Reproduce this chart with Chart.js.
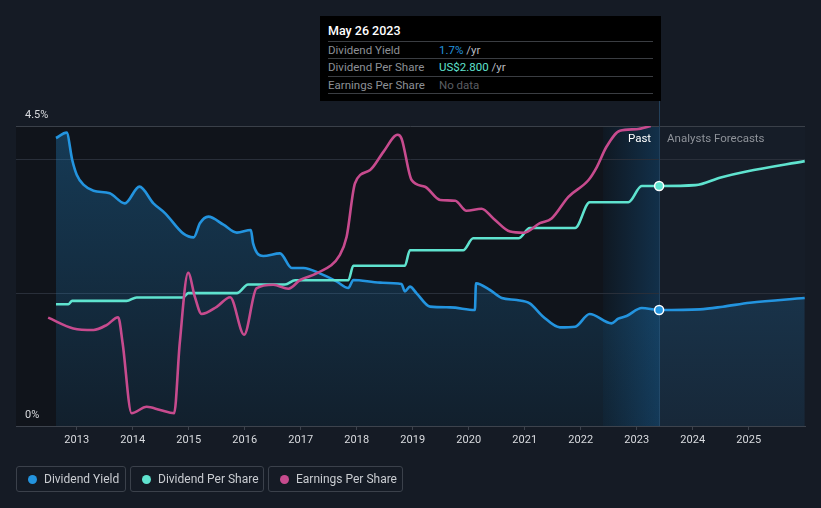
<!DOCTYPE html>
<html>
<head>
<meta charset="utf-8">
<script src="https://cdn.jsdelivr.net/npm/chart.js@4/dist/chart.umd.min.js"></script>
<style>
  html, body { margin: 0; padding: 0; background: #151b25; }
  body { width: 821px; height: 508px; position: relative; overflow: hidden; font-family: Roboto, "Open Sans", sans-serif; }
  #wrap { position: absolute; left: 0; top: 0; width: 821px; height: 508px; }
  #tip { position: absolute; left: 320px; top: 16px; width: 341px; height: 85px; background: #000; }
  #tip .title { position: absolute; left: 8px; top: 7px; color: #fff; font-size: 12.5px; font-weight: 500; }
  #tip .sep { position: absolute; left: 8px; width: 325px; height: 1px; background: #3a3d42; }
  #tip .lab { position: absolute; left: 8px; color: #8d9096; font-size: 11.5px; }
  #tip .val { position: absolute; left: 119px; font-size: 11.5px; color: #b8bbc0; }
  .legend { position: absolute; top: 466px; height: 26px; border: 1px solid #3b414b; border-radius: 3px; box-sizing: border-box; }
  .legend .dot { position: absolute; left: 11px; top: 8px; width: 9px; height: 9px; border-radius: 50%; }
  .legend .txt { position: absolute; left: 27px; top: 5px; font-size: 12px; color: #c9ccd1; white-space: nowrap; }
</style>
</head>
<body>
<div id="wrap"><canvas id="c" width="821" height="508"></canvas></div>

<div id="tip">
  <div class="title">May 26 2023</div>
  <div class="sep" style="top:25px"></div>
  <div class="lab" style="top:27px">Dividend Yield</div>
  <div class="val" style="top:27px"><span style="color:#2394df">1.7%</span> /yr</div>
  <div class="sep" style="top:42px"></div>
  <div class="lab" style="top:44px">Dividend Per Share</div>
  <div class="val" style="top:44px"><span style="color:#5fe3cf">US$2.800</span> /yr</div>
  <div class="sep" style="top:60px"></div>
  <div class="lab" style="top:62px">Earnings Per Share</div>
  <div class="val" style="top:62px; color:#5b5e63">No data</div>
  <div class="sep" style="top:77px"></div>
</div>

<div class="legend" style="left:16px; width:110px;"><div class="dot" style="background:#2394df"></div><div class="txt">Dividend Yield</div></div>
<div class="legend" style="left:130px; width:134px;"><div class="dot" style="background:#5fe3cf"></div><div class="txt">Dividend Per Share</div></div>
<div class="legend" style="left:268px; width:135px;"><div class="dot" style="background:#c74b8e"></div><div class="txt">Earnings Per Share</div></div>

<script>
// ---- Data (x as decimal years) ----
const yieldDates = [2012.63,2012.82,2012.92,2013.0,2013.12,2013.30,2013.59,2013.86,2014.12,2014.37,2014.58,2014.90,2015.09,2015.20,2015.35,2015.62,2015.86,2016.11,2016.15,2016.33,2016.63,2016.84,2017.05,2017.34,2017.64,2017.85,2017.94,2018.42,2018.80,2018.86,2018.95,2019.07,2019.31,2019.67,2020.11,2020.13,2020.38,2020.59,2020.86,2021.09,2021.33,2021.63,2021.90,2022.16,2022.55,2022.67,2022.82,2023.09,2023.40,2024.13,2024.54,2025.02,2026.0];
const yieldValues = [4.32,4.40,3.99,3.77,3.62,3.53,3.49,3.34,3.59,3.34,3.19,2.89,2.83,3.04,3.14,3.02,2.90,2.94,2.74,2.55,2.59,2.37,2.37,2.29,2.17,2.07,2.19,2.15,2.13,2.02,2.09,1.99,1.79,1.78,1.74,2.14,2.04,1.92,1.89,1.84,1.64,1.48,1.49,1.68,1.54,1.61,1.65,1.77,1.74,1.75,1.79,1.85,1.92];

const dpsDates = [2012.63,2012.85,2012.92,2013.89,2014.07,2014.90,2014.99,2015.86,2016.06,2016.72,2016.90,2017.85,2017.94,2018.86,2018.95,2019.90,2020.08,2020.89,2021.09,2021.90,2022.16,2022.85,2023.09,2023.40,2024.05,2024.50,2024.96,2026.0];
const dpsValues = [1.42,1.42,1.46,1.46,1.50,1.50,1.55,1.55,1.65,1.65,1.70,1.70,1.87,1.87,2.05,2.05,2.19,2.19,2.31,2.31,2.61,2.61,2.80,2.80,2.81,2.90,2.97,3.09];

const epsDates = [2012.49,2012.94,2013.30,2013.54,2013.74,2013.82,2013.98,2014.25,2014.49,2014.74,2014.84,2014.99,2015.11,2015.23,2015.50,2015.74,2015.99,2016.21,2016.51,2016.78,2016.99,2017.29,2017.70,2017.82,2017.97,2018.24,2018.48,2018.73,2018.80,2018.98,2019.22,2019.49,2019.76,2019.96,2020.23,2020.44,2020.74,2020.98,2021.27,2021.48,2021.78,2022.14,2022.29,2022.46,2022.70,2023.00,2023.25];
const epsValues = [2.71,2.44,2.40,2.53,2.72,2.07,0.32,0.48,0.40,0.32,2.07,3.83,3.23,2.80,2.98,3.22,2.28,3.44,3.53,3.43,3.65,3.82,4.28,4.73,6.07,6.40,6.86,7.28,7.19,6.15,5.98,5.65,5.63,5.38,5.43,5.19,4.86,4.83,5.07,5.19,5.73,6.15,6.48,6.98,7.38,7.42,7.50];

const yearTicks = [2013,2014,2015,2016,2017,2018,2019,2020,2021,2022,2023,2024,2025];
const yieldTickLabels = [{v:4.5, t:'4.5%'}, {v:0, t:'0%'}];
const yieldGridValues = [2, 4];
const hoverDate = 2023.40;
const highlightStart = 2022.40;

const pair = (xs, ys) => xs.map((x, i) => ({x, y: ys[i]}));
const markerRadius = (dates) => (ctx) => (dates[ctx.dataIndex] === hoverDate ? 4.5 : 0);

const bgPlugin = {
  id: 'bg',
  beforeDraw(chart) {
    const {ctx, chartArea: a, scales} = chart;
    const xs = scales.x;
    const xh = xs.getPixelForValue(highlightStart);
    const xv = xs.getPixelForValue(hoverDate);
    ctx.save();
    ctx.fillStyle = '#10141b';
    ctx.fillRect(a.left, a.top, xh - a.left, a.bottom - a.top);
    const g = ctx.createLinearGradient(xh, 0, xv, 0);
    g.addColorStop(0, '#0f1822');
    g.addColorStop(1, '#12304a');
    ctx.fillStyle = g;
    ctx.fillRect(xh, a.top, xv - xh, a.bottom - a.top);
    ctx.fillStyle = '#161d28';
    ctx.fillRect(xv, a.top, a.right - xv, a.bottom - a.top);
    ctx.restore();
  },
  beforeDatasetsDraw(chart) {
    const {ctx, chartArea: a, scales} = chart;
    ctx.save();
    ctx.strokeStyle = '#292f3a';
    ctx.lineWidth = 1;
    yieldGridValues.forEach(v => {
      const y = Math.round(scales.y.getPixelForValue(v)) + 0.5;
      ctx.beginPath();
      ctx.moveTo(a.left, y);
      ctx.lineTo(a.right, y);
      ctx.stroke();
    });
    const xv = Math.round(scales.x.getPixelForValue(hoverDate)) + 0.5;
    ctx.strokeStyle = '#23405a';
    ctx.beginPath();
    ctx.moveTo(xv, 100);
    ctx.lineTo(xv, a.bottom);
    ctx.stroke();
    ctx.restore();
  },
  afterDraw(chart) {
    const {ctx, scales} = chart;
    const xv = scales.x.getPixelForValue(hoverDate);
    ctx.save();
    ctx.font = '11px Roboto';
    ctx.fillStyle = '#d9dbdf';
    ctx.textBaseline = 'middle';
    ctx.textAlign = 'left';
    yieldTickLabels.forEach(l => {
      ctx.fillText(l.t, 25, scales.y.getPixelForValue(l.v) - 11);
    });
    ctx.font = '11.5px Roboto';
    ctx.textAlign = 'right';
    ctx.fillStyle = '#ffffff';
    ctx.fillText('Past', xv - 8, scales.y.top + 13);
    ctx.textAlign = 'left';
    ctx.fillStyle = '#8e9299';
    ctx.fillText('Analysts Forecasts', xv + 8, scales.y.top + 13);
    ctx.restore();
  }
};

new Chart(document.getElementById('c'), {
  type: 'line',
  data: {
    datasets: [
      {
        label: 'Dividend Yield',
        data: pair(yieldDates, yieldValues),
        yAxisID: 'y',
        borderColor: '#2394df',
        borderWidth: 2.6,
        fill: 'origin',
        backgroundColor: (ctx) => {
          const a = ctx.chart.chartArea;
          if (!a) return 'rgba(35,148,223,0.2)';
          const g = ctx.chart.ctx.createLinearGradient(0, a.top, 0, a.bottom);
          g.addColorStop(0, 'rgba(35,148,223,0.30)');
          g.addColorStop(1, 'rgba(35,148,223,0.09)');
          return g;
        },
        pointRadius: markerRadius(yieldDates),
        pointBackgroundColor: '#2394df',
        pointBorderColor: '#ffffff',
        pointBorderWidth: 1.5,
        cubicInterpolationMode: 'monotone',
        order: 3
      },
      {
        label: 'Dividend Per Share',
        data: pair(dpsDates, dpsValues),
        yAxisID: 'yDps',
        borderColor: '#5fe3cf',
        borderWidth: 2.6,
        fill: false,
        pointRadius: markerRadius(dpsDates),
        pointBackgroundColor: '#5fe3cf',
        pointBorderColor: '#ffffff',
        pointBorderWidth: 1.5,
        cubicInterpolationMode: 'monotone',
        order: 2
      },
      {
        label: 'Earnings Per Share',
        data: pair(epsDates, epsValues),
        yAxisID: 'yEps',
        borderColor: '#c74b8e',
        borderWidth: 2.6,
        fill: false,
        pointRadius: 0,
        cubicInterpolationMode: 'monotone',
        order: 1
      }
    ]
  },
  options: {
    responsive: false,
    animation: false,
    events: [],
    layout: { padding: { left: 16, right: 16, top: 126, bottom: 60 } },
    plugins: { legend: { display: false }, tooltip: { enabled: false } },
    scales: {
      x: {
        type: 'linear',
        min: 2011.916,
        max: 2026.005,
        afterBuildTicks: (s) => { s.ticks = yearTicks.map(v => ({value: v})); },
        afterFit: (s) => { s.height = 22; },
        ticks: {
          color: '#d9dbdf',
          font: { family: 'Roboto', size: 11 },
          padding: 4,
          maxRotation: 0,
          autoSkip: false,
          callback: (v) => String(v)
        },
        grid: { drawOnChartArea: false, drawTicks: true, tickLength: 4, color: '#3d434d' },
        border: { display: true, color: '#3d434d', width: 1 }
      },
      y: {
        min: 0,
        max: 4.5,
        afterBuildTicks: (s) => { s.ticks = [{value: 4.5}]; },
        afterFit: (s) => { s.width = 0; },
        ticks: { display: false },
        grid: { drawTicks: false, color: '#3a4049' },
        border: { display: false }
      },
      yDps: { display: false, min: 0, max: 3.5 },
      yEps: { display: false, min: 0, max: 7.5 }
    }
  },
  plugins: [bgPlugin]
});
</script>
</body>
</html>
